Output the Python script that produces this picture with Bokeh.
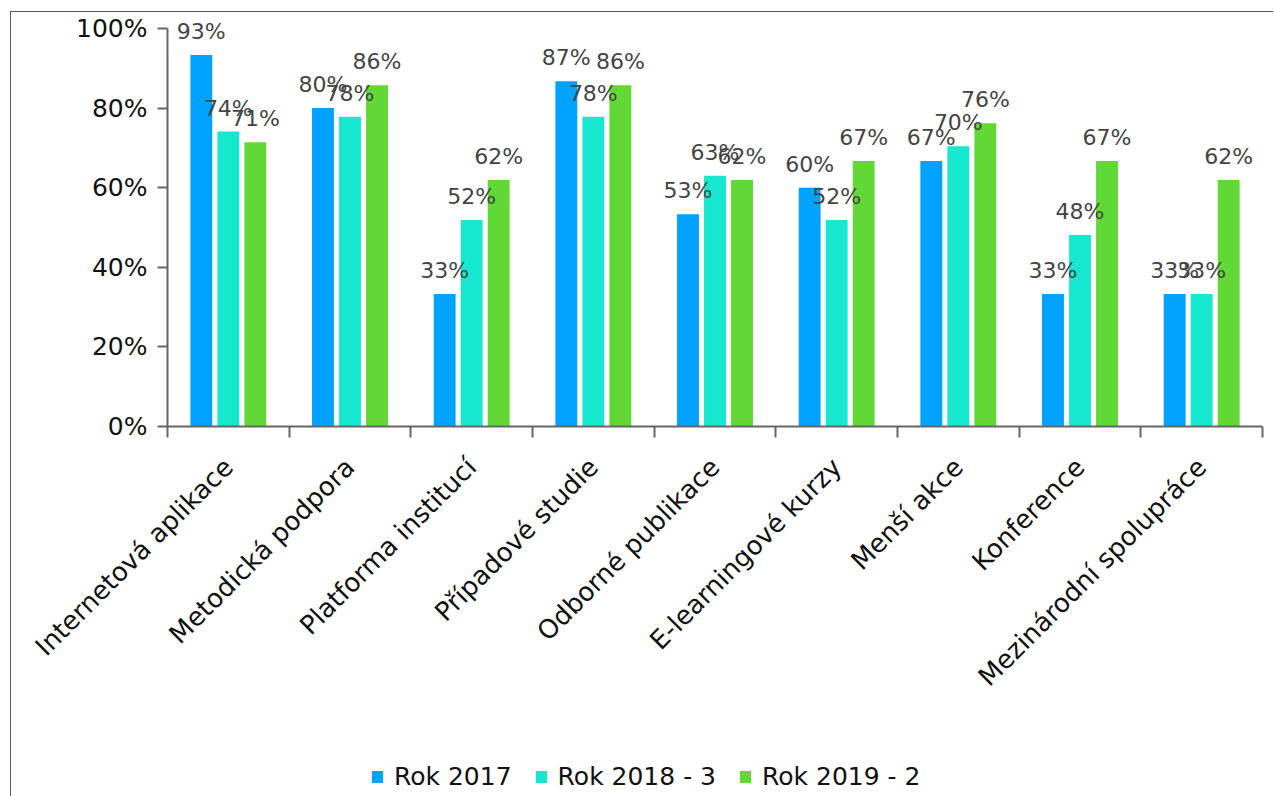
import math
from bokeh.plotting import figure
from bokeh.layouts import column
from bokeh.models import (ColumnDataSource, FixedTicker, NumeralTickFormatter,
                          CustomJSTickFormatter, Legend, LegendItem, LabelSet, Range1d)
from bokeh.transform import dodge
from bokeh.core.properties import value
from bokeh.embed import file_html
from bokeh.resources import INLINE

categories = ["Internetová aplikace", "Metodická podpora", "Platforma institucí",
              "Případové studie", "Odborné publikace", "E-learningové kurzy",
              "Menší akce", "Konference", "Mezinárodní spolupráce"]
series_names = ["Rok 2017", "Rok 2018 - 3", "Rok 2019 - 2"]
rok_2017 = [0.933, 0.800, 0.333, 0.867, 0.533, 0.600, 0.667, 0.333, 0.333]
rok_2018 = [0.741, 0.778, 0.519, 0.778, 0.630, 0.519, 0.704, 0.481, 0.333]
rok_2019 = [0.714, 0.857, 0.619, 0.857, 0.619, 0.667, 0.762, 0.667, 0.619]
colors = ["#00A2FF", "#16E7CF", "#61D836"]
y_ticks = [0, 0.2, 0.4, 0.6, 0.8, 1.0]

FONT = "DejaVu Sans"
n = len(categories)
pos = [i + 0.5 for i in range(n)]
series = [rok_2017, rok_2018, rok_2019]

data = dict(pos=pos)
for k, s in enumerate(series):
    data[f"v{k}"] = s
    data[f"l{k}"] = [f"{round(v * 100)}%" for v in s]
source = ColumnDataSource(data)

p = figure(width=1262, height=736, x_range=Range1d(0, n), y_range=Range1d(0, 1.04),
           output_backend="svg", toolbar_location=None,
           min_border_left=156, min_border_right=11, min_border_top=0,
           min_border_bottom=322)
p.outline_line_color = None
p.xgrid.grid_line_color = None
p.ygrid.grid_line_color = None

offsets = [-0.222, 0.0, 0.222]
for k in range(3):
    p.vbar(x=dodge("pos", offsets[k]), top=f"v{k}", width=0.18, source=source,
           fill_color=colors[k], line_color=None)
    labels = LabelSet(x=dodge("pos", offsets[k]), y=f"v{k}", text=f"l{k}", source=source,
                      y_offset=16, text_align="center", text_baseline="alphabetic",
                      text_font=value(FONT), text_font_size="22px", text_color="#444444")
    p.add_layout(labels)

# y axis
yax = p.yaxis[0]
yax.ticker = FixedTicker(ticks=y_ticks)
yax.bounds = (0, 1)
yax.formatter = NumeralTickFormatter(format="0%")
yax.major_tick_out = 10
yax.major_tick_in = 0
yax.minor_tick_line_color = None
yax.major_label_standoff = 10
yax.major_label_text_font = FONT
yax.major_label_text_font_size = "25px"
yax.major_label_text_color = "#111111"
yax.axis_line_color = "#666666"
yax.axis_line_width = 2
yax.major_tick_line_color = "#666666"
yax.major_tick_line_width = 2

# x axis
xax = p.xaxis[0]
xax.ticker = FixedTicker(ticks=pos, minor_ticks=list(range(n + 1)))
xax.formatter = CustomJSTickFormatter(args=dict(labels=categories),
                                      code="const i = Math.floor(tick); return (i >= 0 && i < labels.length) ? labels[i] : '';")
xax.major_tick_line_color = None
xax.major_tick_out = 0
xax.major_tick_in = 0
xax.minor_tick_out = 11
xax.minor_tick_in = 0
xax.minor_tick_line_color = "#666666"
xax.minor_tick_line_width = 2
xax.major_label_orientation = math.pi / 4
xax.major_label_standoff = 25
xax.major_label_text_font = FONT
xax.major_label_text_font_size = "26px"
xax.major_label_text_color = "#111111"
xax.axis_line_color = "#666666"
xax.axis_line_width = 2

# legend strip (same series, plotted outside its visible range so only the legend shows)
p2 = figure(width=1262, height=48, x_range=Range1d(0, n), y_range=Range1d(5, 6),
            output_backend="svg", toolbar_location=None,
            x_axis_location=None, y_axis_location=None,
            min_border_left=0, min_border_right=0, min_border_top=0, min_border_bottom=0)
p2.outline_line_color = None
p2.xgrid.grid_line_color = None
p2.ygrid.grid_line_color = None
leg_renderers = []
for k in range(3):
    r = p2.vbar(x=dodge("pos", offsets[k]), top=f"v{k}", width=0.18, source=source,
                fill_color=colors[k], line_color=None)
    leg_renderers.append(r)

legend = Legend(items=[LegendItem(label=series_names[k], renderers=[leg_renderers[k]]) for k in range(3)],
                orientation="horizontal", location=(203, 5))
legend.padding = 0
legend.margin = 0
legend.spacing = 22
legend.glyph_width = 14
legend.glyph_height = 15
legend.label_standoff = 10
legend.label_text_font = FONT
legend.label_text_font_size = "25px"
legend.label_text_color = "#111111"
legend.border_line_color = None
legend.background_fill_alpha = 0
p2.add_layout(legend)

layout = column(p, p2)
layout.margin = (11, 0, 0, 10)
layout.styles = {"border-top": "1px solid #555555", "border-left": "1px solid #555555"}

open("out.html", "w").write(file_html(layout, INLINE))
